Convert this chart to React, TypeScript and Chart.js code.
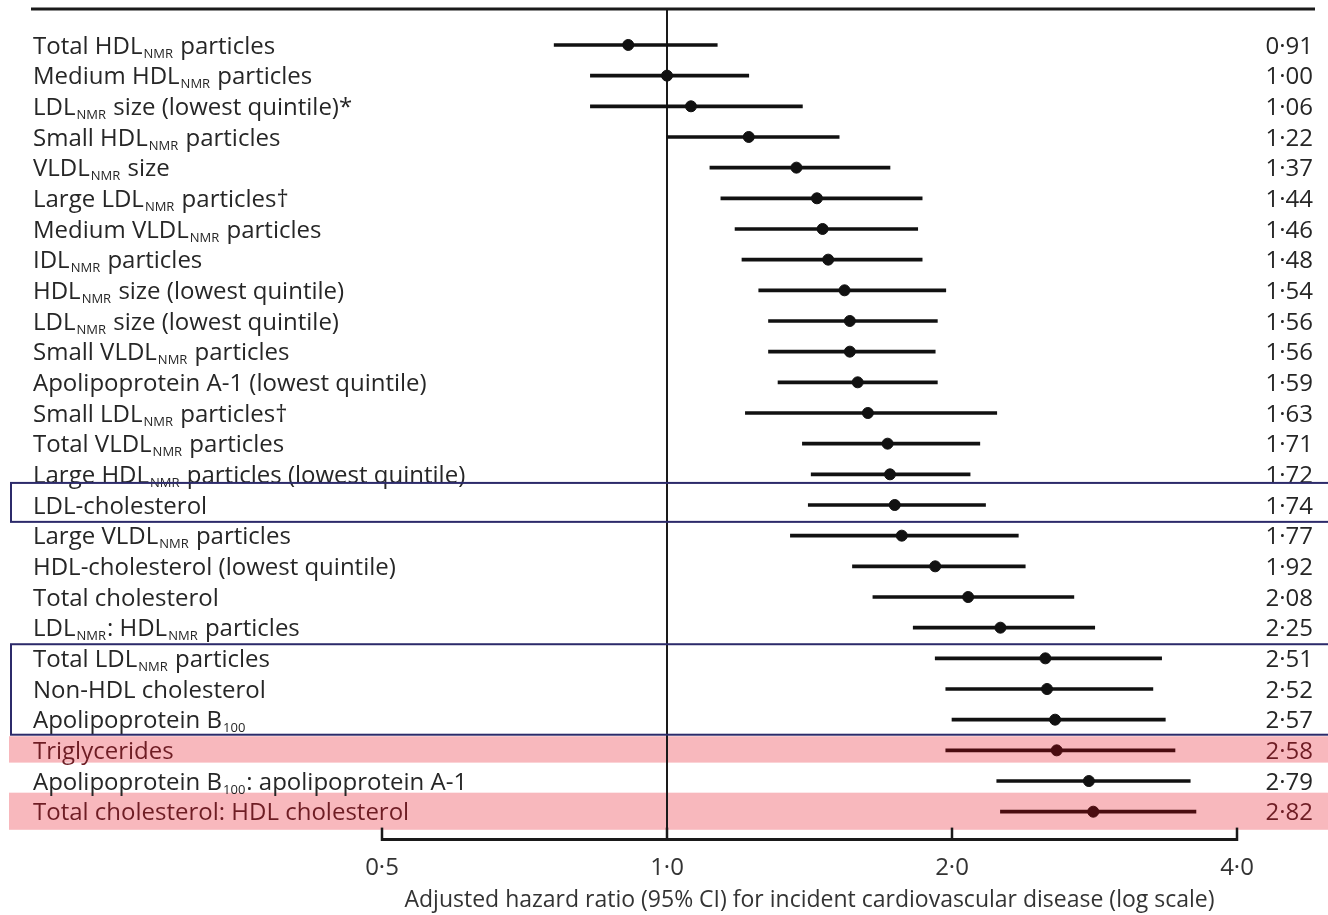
import React, { useEffect, useRef } from 'react';
import { Chart, registerables } from 'chart.js';

Chart.register(...registerables);

// ---------- data ----------
const rowLabels: string[] = [
  'Total HDL_{NMR} particles',
  'Medium HDL_{NMR} particles',
  'LDL_{NMR} size (lowest quintile)*',
  'Small HDL_{NMR} particles',
  'VLDL_{NMR} size',
  'Large LDL_{NMR} particles†',
  'Medium VLDL_{NMR} particles',
  'IDL_{NMR} particles',
  'HDL_{NMR} size (lowest quintile)',
  'LDL_{NMR} size (lowest quintile)',
  'Small VLDL_{NMR} particles',
  'Apolipoprotein A-1 (lowest quintile)',
  'Small LDL_{NMR} particles†',
  'Total VLDL_{NMR} particles',
  'Large HDL_{NMR} particles (lowest quintile)',
  'LDL-cholesterol',
  'Large VLDL_{NMR} particles',
  'HDL-cholesterol (lowest quintile)',
  'Total cholesterol',
  'LDL_{NMR}: HDL_{NMR} particles',
  'Total LDL_{NMR} particles',
  'Non-HDL cholesterol',
  'Apolipoprotein B_{100}',
  'Triglycerides',
  'Apolipoprotein B_{100}: apolipoprotein A-1',
  'Total cholesterol: HDL cholesterol',
];

const hazardRatios: number[] = [
  0.91, 1.0, 1.06, 1.22, 1.37, 1.44, 1.46, 1.48, 1.54, 1.56, 1.56, 1.59, 1.63,
  1.71, 1.72, 1.74, 1.77, 1.92, 2.08, 2.25, 2.51, 2.52, 2.57, 2.58, 2.79, 2.82,
];

const ciLower: number[] = [
  0.76, 0.83, 0.83, 1.0, 1.11, 1.14, 1.18, 1.2, 1.25, 1.28, 1.28, 1.31, 1.21,
  1.39, 1.42, 1.41, 1.35, 1.57, 1.65, 1.82, 1.92, 1.97, 2.0, 1.97, 2.23, 2.25,
];

const ciUpper: number[] = [
  1.13, 1.22, 1.39, 1.52, 1.72, 1.86, 1.84, 1.86, 1.97, 1.93, 1.92, 1.93, 2.23,
  2.14, 2.09, 2.17, 2.35, 2.39, 2.69, 2.83, 3.33, 3.26, 3.36, 3.44, 3.57, 3.62,
];

const valueLabels: string[] = [
  '0·91', '1·00', '1·06', '1·22', '1·37', '1·44', '1·46', '1·48', '1·54',
  '1·56', '1·56', '1·59', '1·63', '1·71', '1·72', '1·74', '1·77', '1·92',
  '2·08', '2·25', '2·51', '2·52', '2·57', '2·58', '2·79', '2·82',
];

const shadedRows: number[] = [23, 25];
const boxedGroups: number[][] = [[15, 15], [20, 22]];

const xTickValues: number[] = [0.5, 1, 2, 4];
const xTickLabels: string[] = ['0·5', '1·0', '2·0', '4·0'];
const axisTitle =
  'Adjusted hazard ratio (95% CI) for incident cardiovascular disease (log scale)';

// ---------- styles ----------
const FONT = '"Open Sans", "Noto Sans", sans-serif';
const FONT_SIZE = 24;
const TEXT_COLOR = '#262626';
const SHADED_TEXT = '#6e1d24';
const MARK_COLOR = '#111111';
const SHADED_MARK = '#4a0c10';
const BAND_COLOR = '#f8b8bd';
const BOX_COLOR = '#2c2a6a';

const bandExtents: Record<number, [number, number]> = {
  23: [-0.46, 0.4],
  25: [-0.62, 0.59],
};
const boxExtents: [number, number][] = [
  [-0.72, 0.55],
  [-0.46, 0.49],
];

function drawRichLabel(ctx: CanvasRenderingContext2D, text: string, x: number, yMid: number, size: number) {
  const baseline = yMid + size * 0.36;
  const parts = text.split(/(_\{[^}]*\})/).filter((p) => p.length > 0);
  let cx = x;
  for (const p of parts) {
    const m = p.match(/^_\{([^}]*)\}$/);
    if (m) {
      ctx.font = `${Math.round(size * 0.54)}px ${FONT}`;
      ctx.fillText(m[1], cx + 1, baseline + 4);
      cx += ctx.measureText(m[1]).width + 2;
    } else {
      ctx.font = `${size}px ${FONT}`;
      ctx.fillText(p, cx, baseline);
      cx += ctx.measureText(p).width;
    }
  }
}

const forestPlugin = {
  id: 'forestOverlay',
  beforeDraw(chart: any) {
    const { ctx, scales } = chart;
    const y = scales.y;
    const w = chart.width;
    ctx.save();
    ctx.fillStyle = BAND_COLOR;
    for (const r of shadedRows) {
      const ext = bandExtents[r] || [-0.5, 0.5];
      const t = y.getPixelForValue(r + ext[0]);
      const b = y.getPixelForValue(r + ext[1]);
      ctx.fillRect(9, t, w - 9, b - t);
    }
    ctx.restore();
  },
  afterDraw(chart: any) {
    const { ctx, scales, chartArea } = chart;
    const y = scales.y;
    const w = chart.width;
    ctx.save();
    // top rule
    ctx.strokeStyle = '#1a1a1a';
    ctx.lineWidth = 3;
    ctx.beginPath();
    ctx.moveTo(31, chartArea.top - 1);
    ctx.lineTo(1315, chartArea.top - 1);
    ctx.stroke();

    // row labels and values
    ctx.textBaseline = 'alphabetic';
    rowLabels.forEach((lab, i) => {
      const yy = y.getPixelForValue(i);
      const shaded = shadedRows.includes(i);
      ctx.fillStyle = shaded ? SHADED_TEXT : TEXT_COLOR;
      ctx.textAlign = 'left';
      drawRichLabel(ctx, lab, 33, yy, FONT_SIZE);
      ctx.textAlign = 'right';
      ctx.font = `${FONT_SIZE}px ${FONT}`;
      ctx.fillText(valueLabels[i], 1313, yy + FONT_SIZE * 0.36);
    });

    // group boxes
    ctx.strokeStyle = BOX_COLOR;
    ctx.lineWidth = 2;
    boxedGroups.forEach((g, k) => {
      const ext = boxExtents[k];
      const t = y.getPixelForValue(g[0] + ext[0]);
      const b = y.getPixelForValue(g[1] + ext[1]);
      ctx.strokeRect(11, t, w + 20, b - t);
    });
    ctx.restore();
  },
};

export default function App() {
  const canvasRef = useRef<HTMLCanvasElement | null>(null);

  useEffect(() => {
    const canvas = canvasRef.current;
    if (!canvas) return;
    const rows = rowLabels.map((_, i) => i);
    const markColors = rows.map((i) => (shadedRows.includes(i) ? SHADED_MARK : MARK_COLOR));

    const chart = new Chart(canvas, {
      type: 'scatter',
      data: {
        datasets: [
          {
            type: 'bar',
            indexAxis: 'y',
            label: '95% CI',
            data: rows.map((i) => ({ x: [ciLower[i], ciUpper[i]], y: i })) as any,
            backgroundColor: markColors,
            borderWidth: 0,
            barThickness: 3,
            xAxisID: 'x',
            yAxisID: 'y',
            order: 2,
          } as any,
          {
            type: 'scatter',
            label: 'Hazard ratio',
            data: rows.map((i) => ({ x: hazardRatios[i], y: i })),
            backgroundColor: markColors,
            borderColor: markColors,
            pointRadius: 5.5,
            pointHoverRadius: 5.5,
            xAxisID: 'x',
            yAxisID: 'y',
            order: 1,
          },
        ],
      },
      options: {
        responsive: false,
        animation: false,
        layout: { padding: { left: 382, right: 91, top: 10, bottom: 1 } },
        plugins: {
          legend: { display: false },
          tooltip: { enabled: false },
        },
        scales: {
          x: {
            type: 'logarithmic',
            position: 'bottom',
            min: 0.5,
            max: 4,
            offset: false,
            afterBuildTicks: (scale: any) => {
              scale.ticks = xTickValues.map((v) => ({ value: v }));
            },
            ticks: {
              autoSkip: false,
              maxRotation: 0,
              padding: 26,
              color: '#333',
              font: { family: FONT, size: FONT_SIZE },
              callback: (value: any) => {
                const idx = xTickValues.indexOf(Number(value));
                return idx >= 0 ? xTickLabels[idx] : '';
              },
            },
            grid: {
              offset: false,
              drawOnChartArea: true,
              drawTicks: true,
              tickLength: -12,
              tickColor: '#1a1a1a',
              tickWidth: 2.5,
              lineWidth: 2,
              color: (c: any) => (c.tick && c.tick.value === 1 ? '#1a1a1a' : 'rgba(0,0,0,0)'),
            },
            border: { display: true, color: '#1a1a1a', width: 3 },
            title: {
              display: true,
              text: axisTitle,
              color: '#333',
              font: { family: FONT, size: 23 },
              padding: { top: -22, bottom: 0 },
            },
          },
          y: {
            type: 'linear',
            reverse: true,
            offset: false,
            grid: { offset: false },
            min: -1.14,
            max: 25.91,
            display: false,
          },
        },
      },
      plugins: [forestPlugin],
    } as any);

    return () => chart.destroy();
  }, []);

  return (
    <div style={{ position: 'absolute', left: 0, top: 0, width: 1328, height: 915, background: '#fff' }}>
      <canvas ref={canvasRef} width={1328} height={915} />
    </div>
  );
}
